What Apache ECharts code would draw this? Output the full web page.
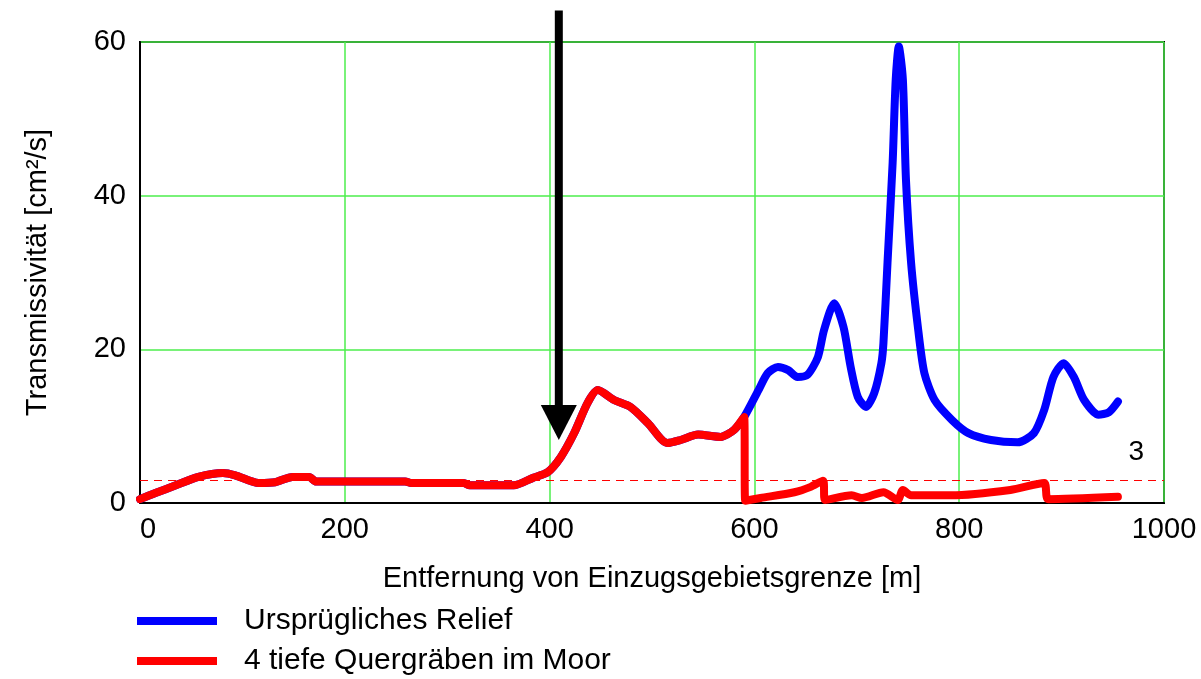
<!DOCTYPE html>
<html>
<head>
<meta charset="utf-8">
<script src="https://cdn.jsdelivr.net/npm/echarts@6/dist/echarts.min.js"></script>
<style>
  html, body { margin: 0; padding: 0; background: #fff; }
  #chart { width: 1201px; height: 679px; }
</style>
</head>
<body>
<div id="chart"></div>
<script>
// Transmissivität entlang des Profils ab der Einzugsgebietsgrenze
// Gemeinsamer Abschnitt (beide Varianten identisch bis zum ersten Graben)
const commonX = [0, 15, 35, 57, 81, 93, 116, 132, 149, 165, 172, 200, 259, 265, 316, 322, 365, 384, 398, 411, 424, 437, 447, 463, 479, 496, 515, 528, 545, 567, 580, 590];
const commonY = [0.5, 1.3, 2.3, 3.4, 3.9, 3.6, 2.6, 2.7, 3.4, 3.4, 2.8, 2.8, 2.8, 2.6, 2.6, 2.3, 2.3, 3.3, 4.0, 6.0, 9.1, 13.0, 14.7, 13.4, 12.5, 10.4, 7.8, 8.2, 8.9, 8.6, 9.5, 11.2];

// Ursprüngliches Relief, weiterer Verlauf
const reliefX = [590, 604, 613, 623, 633, 642, 652, 662, 668, 678, 687, 694, 701, 709, 717, 724, 726, 730, 735, 738, 741, 745, 748, 753, 760, 766, 776, 793, 809, 831, 857, 873, 883, 892, 902, 912, 922, 936, 946, 955];
const reliefY = [11.7, 14.7, 16.9, 17.7, 17.3, 16.4, 16.7, 19.0, 22.5, 26.0, 22.9, 17.7, 13.8, 12.5, 14.3, 18.2, 20.8, 31.3, 44.3, 55.1, 59.4, 55.1, 42.1, 31.3, 22.5, 16.9, 13.4, 10.8, 9.1, 8.2, 7.9, 9.1, 12.1, 16.4, 18.2, 16.4, 13.4, 11.5, 11.8, 13.2];

// 4 tiefe Quergräben im Moor, weiterer Verlauf
const grabenX = [591, 606, 639, 655, 667, 669, 695, 705, 726, 740, 745, 753, 792, 850, 883, 887, 955];
const grabenY = [0.3, 0.65, 1.4, 2.1, 2.9, 0.4, 1.0, 0.65, 1.4, 0.4, 1.7, 1.0, 1.0, 1.7, 2.6, 0.5, 0.8];

const xTicks = { min: 0, max: 1000, interval: 200 };
const yTicks = { min: 0, max: 60, interval: 20 };
const thresholdValue = 3;
// Markierungspfeil: Lage (x), Spitze und Oberkante (y) in Datenwerten
const arrowX = 409;
const arrowTipY = 8.2;
const arrowTopY = 64.1;

const seriesNames = ['Ursprügliches Relief', '4 tiefe Quergräben im Moor'];
const axisNames = { x: 'Entfernung von Einzugsgebietsgrenze [m]', y: 'Transmissivität [cm²/s]' };

function zip(xs, ys) { return xs.map((x, i) => [x, ys[i]]); }

const reliefData = zip(commonX.concat(reliefX.slice(1)), commonY.concat(reliefY.slice(1)));
const grabenData = zip(commonX.concat(grabenX), commonY.concat(grabenY));

const FONT = "'Liberation Sans', Arial, Helvetica, sans-serif";
const gridGreen = '#4cee4c';

const chart = echarts.init(document.getElementById('chart'), null, { renderer: 'canvas' });

chart.setOption({
  backgroundColor: '#ffffff',
  animation: false,
  textStyle: { fontFamily: FONT, color: '#000' },
  grid: {
    left: 140, right: 37, top: 42, bottom: 176,
    show: true, borderColor: '#000', borderWidth: 2, backgroundColor: 'transparent'
  },
  xAxis: {
    type: 'value',
    min: xTicks.min, max: xTicks.max, interval: xTicks.interval,
    name: axisNames.x, nameLocation: 'middle', nameGap: 61,
    nameTextStyle: { fontSize: 29, color: '#000', fontFamily: FONT },
    axisLine: { show: true, lineStyle: { color: '#000', width: 2 } },
    axisTick: { show: false },
    axisLabel: {
      fontSize: 29, color: '#000', margin: 12, fontFamily: FONT, alignMinLabel: 'left',
      formatter: v => String(v)
    },
    splitLine: { show: true, lineStyle: { color: gridGreen, width: 1.5 } }
  },
  yAxis: {
    type: 'value',
    min: yTicks.min, max: yTicks.max, interval: yTicks.interval,
    name: axisNames.y, nameLocation: 'middle', nameGap: 88,
    nameTextStyle: { fontSize: 29, color: '#000', fontFamily: FONT },
    axisLine: { show: true, lineStyle: { color: '#000', width: 2 } },
    axisTick: { show: false },
    axisLabel: { fontSize: 29, color: '#000', margin: 14, fontFamily: FONT },
    splitLine: { show: true, lineStyle: { color: gridGreen, width: 1.5 } }
  },
  legend: {
    orient: 'vertical',
    left: 137, top: 606, height: 73,
    padding: 0,
    itemWidth: 80, itemHeight: 8, itemGap: 10,
    icon: 'rect',
    data: seriesNames,
    textStyle: { fontSize: 30, color: '#000', fontFamily: FONT, padding: [0, 0, 0, 22] }
  },
  series: [
    {
      name: seriesNames[0],
      type: 'line',
      data: reliefData,
      showSymbol: false,
      clip: false,
      smooth: 0.25,
      color: '#0000ff',
      lineStyle: { color: '#0000ff', width: 8, join: 'round', cap: 'round' },
      z: 2,
      markLine: {
        silent: true,
        symbol: ['none', 'none'],
        lineStyle: { color: '#ff0000', type: [8, 6], width: 1 },
        label: {
          show: true, position: 'insideEndTop', formatter: String(thresholdValue),
          color: '#000', fontSize: 28, fontFamily: FONT, distance: [20, 14]
        },
        data: [{ yAxis: thresholdValue }]
      }
    },
    {
      name: seriesNames[1],
      type: 'line',
      data: grabenData,
      showSymbol: false,
      clip: false,
      smooth: 0.25,
      color: '#ff0000',
      lineStyle: { color: '#ff0000', width: 8, join: 'round', cap: 'round' },
      z: 3
    }
  ]
});

// Markierungspfeil über der Stelle des ersten Grabens, über die Achsenskalen positioniert
function drawArrow() {
  const tip = chart.convertToPixel({ gridIndex: 0 }, [arrowX, arrowTipY]);
  const top = chart.convertToPixel({ gridIndex: 0 }, [arrowX, arrowTopY]);
  const headH = 35, headW = 36;
  chart.setOption({
    graphic: [
      {
        type: 'line', z: 100,
        shape: { x1: tip[0], y1: top[1], x2: tip[0], y2: tip[1] - headH + 2 },
        style: { stroke: '#000', lineWidth: 8 }
      },
      {
        type: 'polygon', z: 100,
        shape: { points: [[tip[0] - headW / 2, tip[1] - headH], [tip[0] + headW / 2, tip[1] - headH], [tip[0], tip[1]]] },
        style: { fill: '#000' }
      }
    ]
  });
}
drawArrow();
</script>
</body>
</html>
